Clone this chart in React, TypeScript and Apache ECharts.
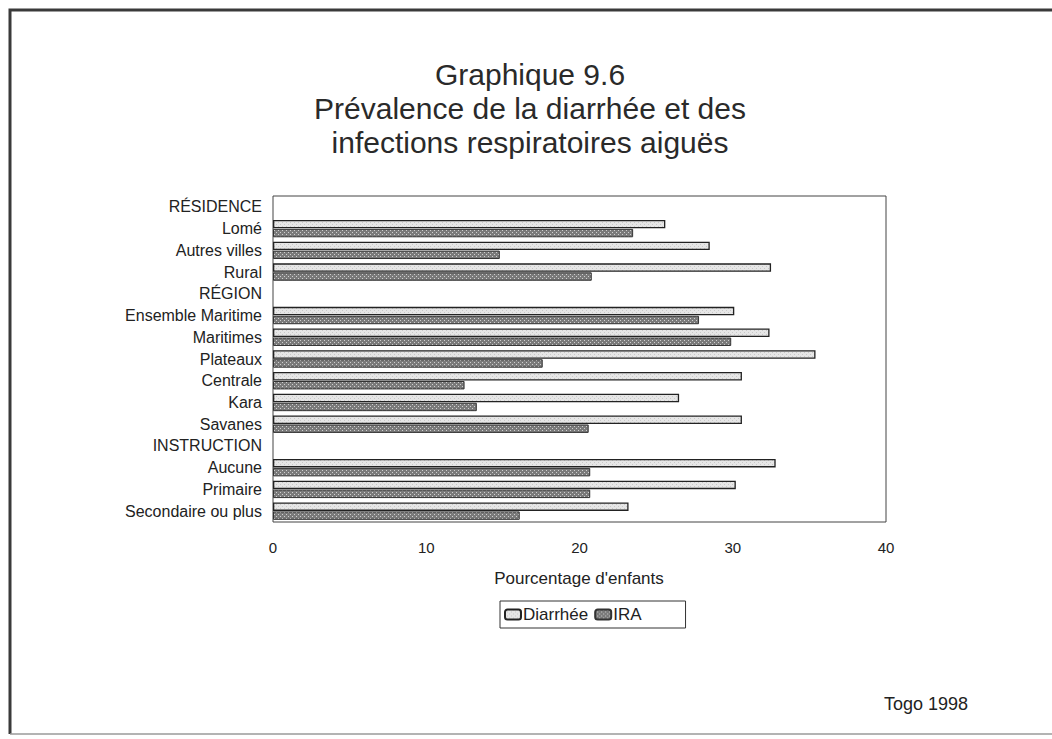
import React, { useEffect, useRef } from "react";
import * as echarts from "echarts";

const categories = [
  "RÉSIDENCE",
  "Lomé",
  "Autres villes",
  "Rural",
  "RÉGION",
  "Ensemble Maritime",
  "Maritimes",
  "Plateaux",
  "Centrale",
  "Kara",
  "Savanes",
  "INSTRUCTION",
  "Aucune",
  "Primaire",
  "Secondaire ou plus",
];
const diarrhee = [null, 25.6, 28.5, 32.5, null, 30.1, 32.4, 35.4, 30.6, 26.5, 30.6, null, 32.8, 30.2, 23.2];
const ira = [null, 23.5, 14.8, 20.8, null, 27.8, 29.9, 17.6, 12.5, 13.3, 20.6, null, 20.7, 20.7, 16.1];
const xTicks = [0, 10, 20, 30, 40];
const titleLines = ["Graphique 9.6", "Prévalence de la diarrhée et des", "infections respiratoires aiguës"];

const FONT = "'Liberation Sans', Arial, Helvetica, sans-serif";

function makePattern(bg: string, fg: string, size: number) {
  const c = document.createElement("canvas");
  c.width = size;
  c.height = size;
  const ctx = c.getContext("2d")!;
  ctx.fillStyle = bg;
  ctx.fillRect(0, 0, size, size);
  ctx.fillStyle = fg;
  ctx.fillRect(0, 0, 1, 1);
  ctx.fillRect(2, 2, 1, 1);
  return c;
}

export default function App() {
  const ref = useRef<HTMLDivElement>(null);
  useEffect(() => {
    if (!ref.current) return;
    const chart = echarts.init(ref.current, undefined, { renderer: "svg" });
    const lightPat = makePattern("#e6e6e6", "#c8c8c8", 4);
    const darkPat = makePattern("#7a7a7a", "#d0d0d0", 4);
    chart.setOption({
      animation: false,
      backgroundColor: "#ffffff",
      textStyle: { fontFamily: FONT },
      graphic: [
        {
          type: "polyline",
          shape: { points: [[1052, 10], [10, 10], [10, 734]] },
          style: { fill: "none", stroke: "#3a3a3a", lineWidth: 3 },
          silent: true,
        },
        {
          type: "line",
          shape: { x1: 10, y1: 734, x2: 1052, y2: 734 },
          style: { stroke: "#9a9a9a", lineWidth: 1.5 },
          silent: true,
        },
        ...titleLines.map((t, i) => ({
          type: "text",
          x: 530,
          y: 74 + i * 34,
          style: {
            text: t,
            fill: "#2a2a2a",
            font: `30px ${FONT}`,
            align: "center",
            verticalAlign: "middle",
          },
        })),
        {
          type: "text",
          x: 579,
          y: 578,
          style: {
            text: "Pourcentage d'enfants",
            fill: "#222",
            font: `17px ${FONT}`,
            align: "center",
            verticalAlign: "middle",
          },
        },
        {
          type: "text",
          x: 926,
          y: 704,
          style: {
            text: "Togo 1998",
            fill: "#222",
            font: `18px ${FONT}`,
            align: "center",
            verticalAlign: "middle",
          },
        },
      ],
      legend: {
        left: 500,
        top: 601,
        orient: "horizontal",
        itemWidth: 16,
        itemHeight: 10,
        itemGap: 6,
        padding: [5, 44, 5, 4],
        borderColor: "#333",
        borderWidth: 1,
        borderRadius: 0,
        backgroundColor: "#fff",
        textStyle: { fontFamily: FONT, fontSize: 17, color: "#222", padding: [0, 0, 0, -3] },
        data: ["Diarrhée", "IRA"],
      },
      grid: {
        left: 273,
        right: 166,
        top: 196,
        bottom: 217,
        show: true,
        borderColor: "#444",
        borderWidth: 1,
        backgroundColor: "transparent",
      },
      xAxis: {
        type: "value",
        min: xTicks[0],
        max: xTicks[xTicks.length - 1],
        interval: 10,
        axisLine: { show: false },
        axisTick: { show: false },
        splitLine: { show: false },
        axisLabel: { color: "#222", fontSize: 15, margin: 18, fontFamily: FONT },
      },
      yAxis: {
        type: "category",
        data: categories,
        inverse: true,
        axisLine: { show: false },
        axisTick: { show: false },
        axisLabel: { color: "#222", fontSize: 16, margin: 11, fontFamily: FONT, interval: 0, hideOverlap: false },
      },
      series: [
        {
          name: "Diarrhée",
          type: "bar",
          data: diarrhee,
          barGap: "6%",
          barCategoryGap: "20%",
          itemStyle: { color: { image: lightPat, repeat: "repeat" }, borderColor: "#222", borderWidth: 1.3 },
        },
        {
          name: "IRA",
          type: "bar",
          data: ira,
          itemStyle: { color: { image: darkPat, repeat: "repeat" }, borderColor: "#333", borderWidth: 1 },
        },
      ],
    });
    return () => chart.dispose();
  }, []);
  return <div ref={ref} style={{ position: "fixed", left: 0, top: 0, width: 1052, height: 739 }} />;
}
